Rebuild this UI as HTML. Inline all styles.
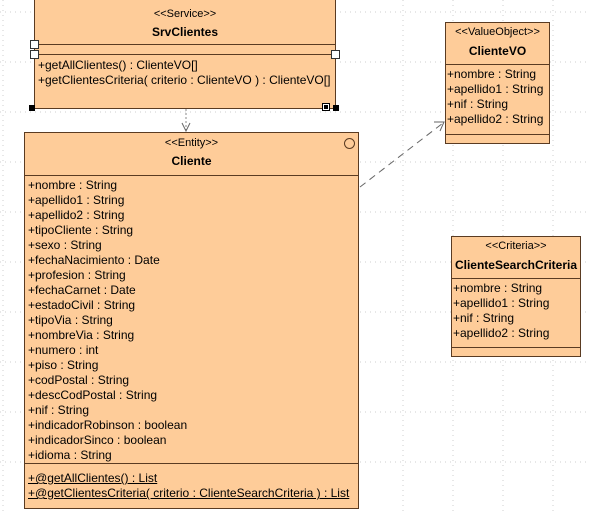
<!DOCTYPE html>
<html><head><meta charset="utf-8"><style>
body{margin:0;width:590px;height:512px;overflow:hidden;background:#fff;position:relative;font-family:"Liberation Sans",Arial,sans-serif;font-size:12px;color:#000}
.box{position:absolute;background:#fecc99;border:1px solid #5a3b22;box-sizing:border-box}
.t{position:absolute;left:0;right:0;text-align:center;white-space:nowrap;font-size:11px}
.b{font-size:12px;font-weight:bold}
.l{position:absolute;left:3px;white-space:nowrap;line-height:15px}
.hr{position:absolute;left:0;right:0;height:0;border-top:1px solid #5a3b22}
.grid{position:absolute;left:0;top:0}
u{text-decoration:underline}
</style></head><body>
<svg class="grid" width="590" height="512">
<g stroke="#cfcfcf" stroke-width="1" stroke-dasharray="1,4">
<line x1="3" y1="0" x2="3" y2="512"/><line x1="403" y1="0" x2="403" y2="512"/><line x1="453" y1="0" x2="453" y2="512"/><line x1="503" y1="0" x2="503" y2="512"/><line x1="553" y1="0" x2="553" y2="512"/>
<line x1="0" y1="12" x2="590" y2="12"/><line x1="0" y1="62" x2="590" y2="62"/><line x1="0" y1="112" x2="590" y2="112"/><line x1="0" y1="162" x2="590" y2="162"/><line x1="0" y1="212" x2="590" y2="212"/><line x1="0" y1="262" x2="590" y2="262"/><line x1="0" y1="312" x2="590" y2="312"/><line x1="0" y1="362" x2="590" y2="362"/><line x1="0" y1="412" x2="590" y2="412"/><line x1="0" y1="462" x2="590" y2="462"/>
</g>
<line x1="360" y1="187" x2="443" y2="123" stroke="#666" stroke-dasharray="7,5"/>
<polyline points="434,122 444,122 440,131" fill="none" stroke="#666"/>
<line x1="186" y1="109" x2="186" y2="131" stroke="#888" stroke-dasharray="2,2"/>
<polyline points="182,123 186,131 190,123" fill="none" stroke="#666"/>
</svg>

<div class="box" style="left:34px;top:-1px;width:302px;height:110px">
<div class="t" style="top:8px">&lt;&lt;Service&gt;&gt;</div>
<div class="t b" style="top:25px">SrvClientes</div>
<div class="hr" style="top:44px"></div>
<div class="hr" style="top:54px"></div>
<div class="l" style="top:58px">+getAllClientes() : ClienteVO[]<br>+getClientesCriteria( criterio : ClienteVO ) : ClienteVO[]</div>
</div>
<div style="position:absolute;left:29px;top:105px;width:6px;height:6px;background:#000"></div>
<div style="position:absolute;left:333px;top:105px;width:6px;height:6px;background:#000"></div>
<div style="position:absolute;left:322px;top:103px;width:6px;height:6px;border:1px solid #000;background:#fff"><div style="margin:1px;width:4px;height:4px;background:#000"></div></div>
<div style="position:absolute;left:30px;top:40px;width:7px;height:7px;border:1px solid #333;background:#fff"></div>
<div style="position:absolute;left:30px;top:50px;width:7px;height:7px;border:1px solid #333;background:#fff"></div>
<div style="position:absolute;left:331px;top:50px;width:7px;height:7px;border:1px solid #333;background:#fff"></div>

<div class="box" style="left:24px;top:132px;width:335px;height:377px">
<div class="t" style="top:4px">&lt;&lt;Entity&gt;&gt;</div>
<div class="t b" style="top:21px">Cliente</div>
<div style="position:absolute;right:3px;top:5px;width:11px;height:11px;border:1px solid #5a3b22;border-radius:50%;box-sizing:border-box"></div>
<div class="hr" style="top:42px"></div>
<div class="l" style="top:45px">+nombre : String<br>+apellido1 : String<br>+apellido2 : String<br>+tipoCliente : String<br>+sexo : String<br>+fechaNacimiento : Date<br>+profesion : String<br>+fechaCarnet : Date<br>+estadoCivil : String<br>+tipoVia : String<br>+nombreVia : String<br>+numero : int<br>+piso : String<br>+codPostal : String<br>+descCodPostal : String<br>+nif : String<br>+indicadorRobinson : boolean<br>+indicadorSinco : boolean<br>+idioma : String</div>
<div class="hr" style="top:330px"></div>
<div class="l" style="top:338px"><u>+@getAllClientes() : List</u><br><u>+@getClientesCriteria( criterio : ClienteSearchCriteria ) : List</u></div>
</div>

<div class="box" style="left:445px;top:22px;width:105px;height:122px">
<div class="t" style="top:3px">&lt;&lt;ValueObject&gt;&gt;</div>
<div class="t b" style="top:21px">ClienteVO</div>
<div class="hr" style="top:41px"></div>
<div class="l" style="top:44px;left:1px">+nombre : String<br>+apellido1 : String<br>+nif : String<br>+apellido2 : String</div>
<div class="hr" style="top:111px"></div>
</div>

<div class="box" style="left:451px;top:236px;width:130px;height:121px">
<div class="t" style="top:3px">&lt;&lt;Criteria&gt;&gt;</div>
<div class="t b" style="top:21px">ClienteSearchCriteria</div>
<div class="hr" style="top:41px"></div>
<div class="l" style="top:44px;left:1px">+nombre : String<br>+apellido1 : String<br>+nif : String<br>+apellido2 : String</div>
<div class="hr" style="top:110px"></div>
</div>
</body></html>
